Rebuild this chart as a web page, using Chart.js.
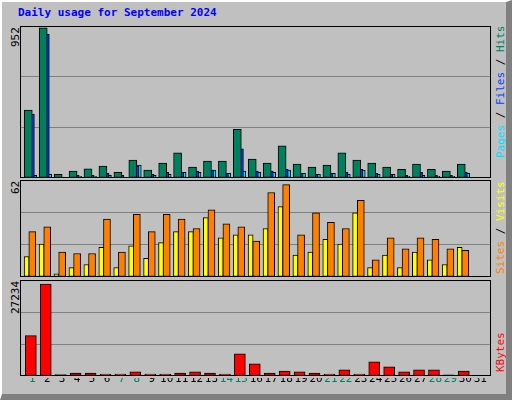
<!DOCTYPE html>
<html>
<head>
<meta charset="utf-8">
<script src="https://cdn.jsdelivr.net/npm/chart.js@4"></script>
<style>
body { margin: 0; background: #fff; }
#frame { position: absolute; left: 0; top: 0; width: 504px; height: 392px; background: #c0c0c0;
  border-left: 2px solid #fff; border-top: 2px solid #fff; border-right: 6px solid #808080; border-bottom: 6px solid #808080; }
.txt { position: absolute; font-family: "DejaVu Sans Mono", monospace; font-size: 11px; white-space: nowrap; }
.rot { transform-origin: left top; transform: rotate(-90deg); }
canvas { position: absolute; }
</style>
</head>
<body>
<div id="frame"></div>
<div class="txt" style="left:18px;top:6px;color:#0000ff;font-weight:bold;">Daily usage for September 2024</div>
<div class="txt rot" style="left:9px;top:47px;">952</div>
<div class="txt rot" style="left:9px;top:194px;">62</div>
<div class="txt rot" style="left:9px;top:314px;">27234</div>
<div class="txt rot" style="left:494px;top:158px;"><span style="color:#00e0ff">Pages</span> / <span style="color:#0040ff">Files</span> / <span style="color:#00805c">Hits</span></div>
<div class="txt rot" style="left:494px;top:274px;"><span style="color:#ff8000">Sites</span> / <span style="color:#ffff00">Visits</span></div>
<div class="txt rot" style="left:494px;top:372px;color:#ff0000">KBytes</div>
<canvas id="c1" style="left:20px;top:26px;width:471px;height:152px;"></canvas>
<canvas id="c2" style="left:20px;top:180px;width:471px;height:97px;"></canvas>
<canvas id="c3" style="left:20px;top:280px;width:471px;height:96px;"></canvas>
<canvas id="c4" style="left:20px;top:378px;width:471px;height:20px;"></canvas>
<script>
const days = Array.from({length: 31}, (_, i) => i + 1);
const weekendDays = [1, 7, 8, 14, 15, 21, 22, 28, 29];
const hits = [426, 940, 23, 43, 57, 75, 36, 113, 49, 94, 158, 68, 106, 106, 305, 119, 94, 202, 87, 68, 81, 158, 113, 94, 68, 55, 87, 55, 43, 87, 0];
const files = [400, 901, 6, 17, 17, 30, 17, 75, 23, 36, 36, 43, 49, 30, 183, 43, 43, 55, 30, 23, 30, 36, 55, 30, 23, 17, 36, 17, 17, 36, 0];
const pages = [17, 23, 4, 11, 11, 17, 4, 81, 17, 23, 36, 36, 49, 30, 43, 36, 36, 49, 30, 23, 30, 23, 49, 23, 23, 11, 17, 11, 11, 30, 0];
const visits = [29, 32, 16, 15, 15, 37, 16, 40, 29, 40, 37, 31, 43, 34, 32, 23, 54, 59, 27, 41, 35, 31, 49, 11, 25, 18, 25, 24, 18, 17, 0];
const sites = [13, 21, 2, 6, 8, 19, 6, 20, 12, 22, 29, 29, 38, 25, 27, 27, 31, 45, 14, 16, 24, 21, 41, 6, 14, 6, 16, 11, 8, 19, 0];
const kbytes = [11470, 26100, 380, 860, 860, 570, 570, 1150, 570, 570, 860, 1150, 860, 570, 6300, 3440, 860, 1430, 1150, 860, 570, 1720, 570, 4000, 2580, 1150, 1720, 1720, 300, 1430, 0];
const maxHits = 952, maxVisits = 62, maxKbytes = 27234;

const xMin = 0.175, xMax = 31.72;
const frame = {
  id: 'frame',
  afterDraw(chart) {
    const a = chart.chartArea, ctx = chart.ctx;
    ctx.save(); ctx.strokeStyle = '#000'; ctx.lineWidth = 1;
    ctx.strokeRect(a.left + 0.5, a.top + 0.5, a.right - a.left - 1, a.bottom - a.top - 1);
    ctx.restore();
  }
};
function ds(values, shift, color, width) {
  return { data: values.map((v, i) => ({x: days[i] + shift, y: v})), backgroundColor: color,
    borderColor: '#000', borderWidth: 1, borderSkipped: false, barThickness: width, grouped: false };
}
function panel(id, sets, max) {
  new Chart(document.getElementById(id), {
    type: 'bar',
    data: { datasets: sets },
    options: {
      responsive: false, animation: false, devicePixelRatio: 1,
      layout: { padding: 0 },
      plugins: { legend: { display: false }, tooltip: { enabled: false } },
      scales: {
        x: { type: 'linear', min: xMin, max: xMax, offset: false, display: false },
        y: { min: 0, max: max, border: { display: false },
          afterBuildTicks: s => { s.ticks = [0, max / 3, 2 * max / 3, max].map(v => ({value: v})); },
          grid: { color: '#808080', drawTicks: false, lineWidth: 1 },
          ticks: { display: false, padding: 0 } }
      }
    },
    plugins: [frame]
  });
}
function size(id) {
  const c = document.getElementById(id);
  c.width = parseInt(c.style.width); c.height = parseInt(c.style.height);
}
['c1', 'c2', 'c3', 'c4'].forEach(size);
panel('c1', [ds(hits, -0.27, '#00805c', 8), ds(files, -0.13, '#0040ff', 8), ds(pages, 0.03, '#00e0ff', 8)], maxHits);
panel('c2', [ds(visits, 0.0, '#ff8000', 7), ds(sites, -0.38, '#ffff00', 5)], maxVisits);
panel('c3', [ds(kbytes, -0.1, '#ff0000', 11)], maxKbytes);

new Chart(document.getElementById('c4'), {
  type: 'scatter',
  data: { datasets: [{ data: days.map(d => ({x: d, y: 0})), pointRadius: 0 }] },
  options: {
    responsive: false, animation: false, devicePixelRatio: 1,
    layout: { padding: 0 },
    plugins: { legend: { display: false }, tooltip: { enabled: false } },
    scales: {
      x: { type: 'linear', min: xMin, max: xMax, offset: false, position: 'top',
        afterBuildTicks: s => { s.ticks = days.map(d => ({value: d})); },
        border: { display: false }, grid: { display: false, drawTicks: false },
        ticks: { autoSkip: false, maxRotation: 0, padding: 2, font: { family: 'DejaVu Sans Mono', size: 11 },
          color: c => weekendDays.includes(c.tick.value) ? '#00805c' : '#000' } },
      y: { display: false }
    }
  }
});
</script>
</body>
</html>
